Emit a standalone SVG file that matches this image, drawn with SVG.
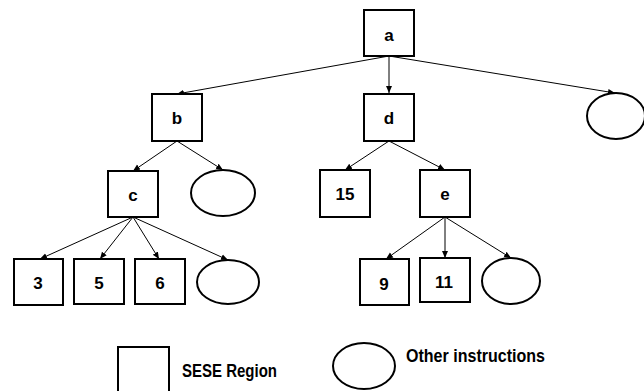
<svg xmlns="http://www.w3.org/2000/svg" width="644" height="391" viewBox="0 0 644 391">
  <style>
    .box { fill: #ffffff; stroke: #000000; stroke-width: 2; }
    .oval { fill: #ffffff; stroke: #000000; stroke-width: 2; }
    .edge { stroke: #000000; stroke-width: 1; fill: none; marker-end: url(#head); }
    .lbl { font-family: "Liberation Sans", Arial, sans-serif; font-weight: bold; font-size: 17px; text-anchor: middle; fill: #000000; }
    .key { font-family: "Liberation Sans", Arial, sans-serif; font-weight: bold; font-size: 18px; fill: #000000; }
  </style>
  <defs>
    <marker id="head" markerUnits="userSpaceOnUse" markerWidth="8" markerHeight="8" viewBox="0 0 8 8" refX="7" refY="4" orient="auto">
      <path d="M0,1 L7,4 L0,7 Z" fill="#000000"/>
    </marker>
  </defs>
  <rect width="644" height="391" fill="#ffffff"/>

  <!-- tree edges -->
  <g id="connectors">
    <line class="edge" x1="389" y1="56" x2="177" y2="94"/>
    <line class="edge" x1="389" y1="56" x2="389" y2="93"/>
    <line class="edge" x1="389" y1="56" x2="615" y2="93"/>
    <line class="edge" x1="177" y1="141" x2="133" y2="171"/>
    <line class="edge" x1="177" y1="141" x2="223" y2="170"/>
    <line class="edge" x1="389" y1="141" x2="345" y2="170"/>
    <line class="edge" x1="389" y1="141" x2="445" y2="170"/>
    <line class="edge" x1="133" y1="217" x2="40" y2="259"/>
    <line class="edge" x1="133" y1="217" x2="100" y2="259"/>
    <line class="edge" x1="133" y1="217" x2="159" y2="259"/>
    <line class="edge" x1="133" y1="217" x2="228" y2="260"/>
    <line class="edge" x1="445" y1="217" x2="386" y2="259"/>
    <line class="edge" x1="445" y1="217" x2="445" y2="258"/>
    <line class="edge" x1="445" y1="217" x2="511" y2="258"/>
  </g>

  <!-- SESE regions -->
  <g id="node-a"><rect class="box" x="364" y="10" width="50" height="46"/><text class="lbl" x="389" y="41">a</text></g>
  <g id="node-b"><rect class="box" x="152" y="94" width="50" height="47"/><text class="lbl" x="177" y="124">b</text></g>
  <g id="node-d"><rect class="box" x="364" y="94" width="50" height="47"/><text class="lbl" x="389" y="124">d</text></g>
  <g id="node-c"><rect class="box" x="108" y="171" width="50" height="46"/><text class="lbl" x="133" y="201">c</text></g>
  <g id="node-15"><rect class="box" x="320" y="170" width="50" height="47"/><text class="lbl" x="345" y="200">15</text></g>
  <g id="node-e"><rect class="box" x="420" y="170" width="50" height="47"/><text class="lbl" x="445" y="200">e</text></g>
  <g id="node-3"><rect class="box" x="14" y="259" width="49" height="46"/><text class="lbl" x="38" y="289">3</text></g>
  <g id="node-5"><rect class="box" x="74" y="259" width="50" height="45"/><text class="lbl" x="99" y="289">5</text></g>
  <g id="node-6"><rect class="box" x="135" y="259" width="50" height="45"/><text class="lbl" x="160" y="289">6</text></g>
  <g id="node-9"><rect class="box" x="360" y="259" width="49" height="46"/><text class="lbl" x="384" y="290">9</text></g>
  <g id="node-11"><rect class="box" x="420" y="258" width="50" height="44"/><text class="lbl" x="444" y="288">11</text></g>

  <!-- other instructions -->
  <g id="node-other-a"><ellipse class="oval" cx="616" cy="116" rx="29" ry="23"/></g>
  <g id="node-other-b"><ellipse class="oval" cx="223" cy="193" rx="32" ry="23"/></g>
  <g id="node-other-c"><ellipse class="oval" cx="228" cy="282" rx="31" ry="22"/></g>
  <g id="node-other-e"><ellipse class="oval" cx="511" cy="281" rx="29" ry="23"/></g>

  <!-- key -->
  <g id="legend-region">
    <rect class="box" x="118" y="347" width="51" height="52"/>
    <text class="key" x="182" y="377" textLength="95" lengthAdjust="spacingAndGlyphs">SESE Region</text>
  </g>
  <g id="legend-other">
    <ellipse class="oval" cx="364" cy="366" rx="31" ry="23"/>
    <text class="key" x="406" y="362" textLength="139" lengthAdjust="spacingAndGlyphs">Other instructions</text>
  </g>
</svg>
